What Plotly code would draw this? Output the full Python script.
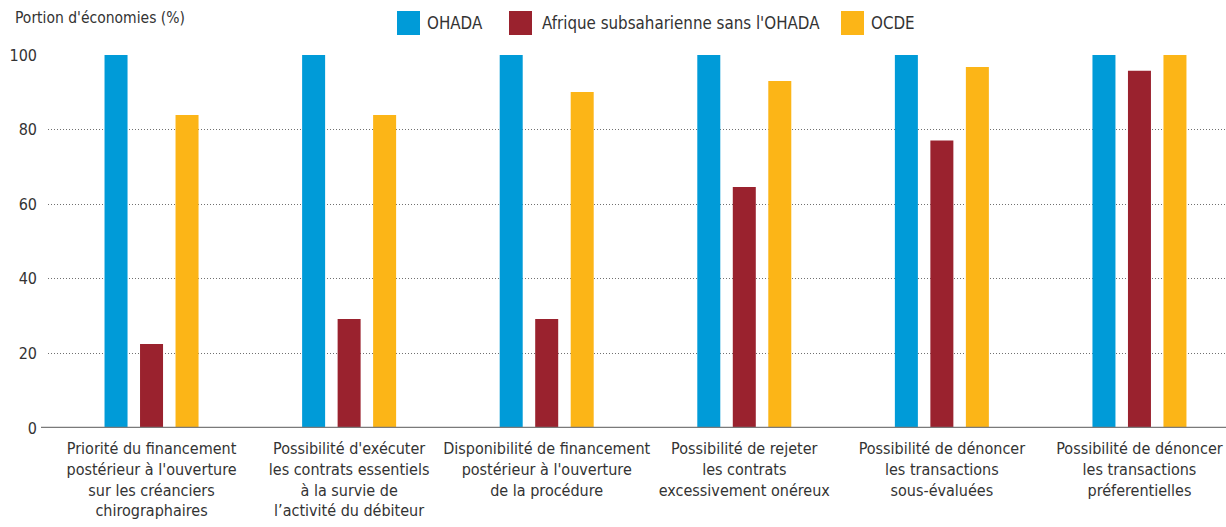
import plotly.graph_objects as go

categories = [
    "Priorité du financement<br>postérieur à l'ouverture<br>sur les créanciers<br>chirographaires",
    "Possibilité d'exécuter<br>les contrats essentiels<br>à la survie de<br>l’activité du débiteur",
    "Disponibilité de financement<br>postérieur à l'ouverture<br>de la procédure",
    "Possibilité de rejeter<br>les contrats<br>excessivement onéreux",
    "Possibilité de dénoncer<br>les transactions<br>sous-évaluées",
    "Possibilité de dénoncer<br>les transactions<br>préferentielles",
]
ohada = [100, 100, 100, 100, 100, 100]
afrique_hors_ohada = [22.5, 29.2, 29.2, 64.6, 77.1, 95.8]
ocde = [83.9, 83.9, 90.1, 93.0, 96.8, 100]

series_names = ["OHADA", "Afrique subsaharienne sans l'OHADA", "OCDE"]
series_values = [ohada, afrique_hors_ohada, ocde]
colors = ["#009BD8", "#9A222E", "#FCB517"]
y_ticks = [0, 20, 40, 60, 80, 100]

FONT = "DejaVu Sans Condensed, sans-serif"
TEXT = "#333333"

W, H = 1226, 527
L, R, T, B = 48, 0, 55, 99

fig = go.Figure()
x_idx = list(range(len(categories)))
for name, vals, col in zip(series_names, series_values, colors):
    fig.add_trace(go.Bar(x=x_idx, y=vals, name=name, marker_color=col,
                         marker_line_width=0, showlegend=False))

fig.update_layout(
    width=W, height=H,
    margin=dict(l=L, r=R, t=T, b=B, autoexpand=False),
    paper_bgcolor="white", plot_bgcolor="white",
    barmode="group", bargap=0.461, bargroupgap=0.352,
    font=dict(family=FONT, size=16, color=TEXT),
    xaxis=dict(tickmode="array", tickvals=x_idx, ticktext=categories,
               range=[-0.524, 5.438], showgrid=False, zeroline=False,
               showline=False, ticks="", tickangle=0, automargin=False,
               ticklabelstandoff=9, tickfont=dict(size=16, color=TEXT)),
    yaxis=dict(range=[0, 100], tickvals=y_ticks, showgrid=True,
               gridcolor="#707070", griddash="1px,2px", gridwidth=1,
               zeroline=False, showline=False, ticks="", automargin=False,
               ticklabelstandoff=10, tickfont=dict(size=16, color=TEXT)),
)

# baseline at zero
fig.add_shape(type="line", xref="paper", yref="y", x0=-7 / (W - L - R), x1=1,
              y0=0, y1=0, line=dict(color="#7a7a7a", width=2.5), layer="above")

# axis title
fig.add_annotation(text="Portion d'économies (%)", xref="paper", yref="paper",
                   x=-35 / (W - L - R), y=1 + 37 / (H - T - B),
                   xanchor="left", yanchor="middle", showarrow=False,
                   font=dict(size=15.5, color=TEXT))

# legend drawn as swatches + labels
pw, ph = W - L - R, H - T - B
def px_x(x):
    return (x - L) / pw
def px_y(y):
    return (H - B - y) / ph

legend_items = [(397, 425), (509, 540), (841, 869)]
for (sx, tx), name, col in zip(legend_items, series_names, colors):
    fig.add_shape(type="rect", xref="paper", yref="paper",
                  x0=px_x(sx), x1=px_x(sx + 23), y0=px_y(35), y1=px_y(11),
                  fillcolor=col, line_width=0)
    fig.add_annotation(text=name, xref="paper", yref="paper",
                       x=px_x(tx), y=px_y(23), xanchor="left", yanchor="middle",
                       showarrow=False, font=dict(size=16.8, color=TEXT))

fig.write_html("out.html")
